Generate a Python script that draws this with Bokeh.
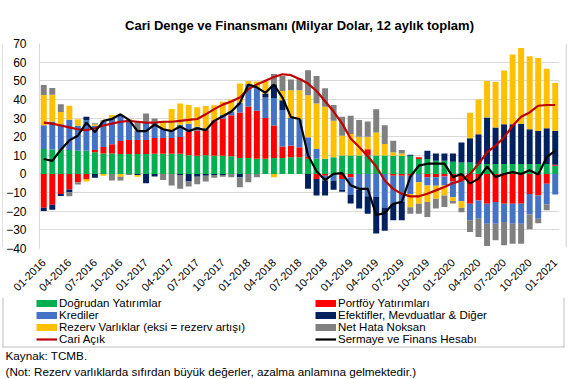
import math
from bokeh.plotting import figure
from bokeh.layouts import column, row
from bokeh.models import (ColumnDataSource, Range1d, FixedTicker, Label, Legend, LegendItem)
from bokeh.embed import file_html
from bokeh.resources import INLINE

# ---------------- data (billion USD, 12-month sums), 01-2016 .. 01-2021 ----------------
tick_labels = ["01-2016", "04-2016", "07-2016", "10-2016", "01-2017", "04-2017", "07-2017",
               "10-2017", "01-2018", "04-2018", "07-2018", "10-2018", "01-2019", "04-2019",
               "07-2019", "10-2019", "01-2020", "04-2020", "07-2020", "10-2020", "01-2021"]

dogrudan = [13.4, 13.1, 13.0, 12.9, 12.5, 12.5, 11.6, 11.0, 11.0, 10.7,
            10.7, 10.7, 10.7, 10.8, 10.8, 10.8, 10.8, 10.0, 9.8, 10.0,
            9.8, 9.8, 9.5, 8.6, 8.6, 8.1, 8.1, 8.5, 8.5, 9.0,
            9.0, 8.1, 8.1, 8.1, 9.0, 9.9, 9.9, 9.9, 10.0, 9.9,
            9.9, 9.8, 9.8, 9.8, 8.0, 8.0, 7.1, 7.1, 6.5, 6.2,
            6.2, 5.3, 5.3, 5.3, 5.3, 5.3, 5.3, 5.3, 5.3, 5.3,
            4.4]
portfoy = [-18.1, -16.5, -10.7, -8.4, -4.4, -2.7, 1.2, 3.5, 5.0, 7.0,
           7.5, 7.5, 7.5, 8.5, 8.5, 8.5, 9.0, 12.5, 13.5, 14.0,
           19.0, 20.0, 22.0, 24.4, 27.6, 25.8, 21.9, 17.5, 6.2, 6.2,
           5.3, 1.2, -2.7, -0.9, 0.0, -2.7, -1.8, 0.0, 3.2, 0.0,
           0.0, -1.0, -1.0, -0.9, 0.9, -1.8, -1.8, -1.4, -4.0, -3.6,
           -16.0, -14.2, -16.0, -15.1, -16.0, -16.0, -16.0, -10.7, -11.6, -5.3,
           0.5]
krediler = [12.8, 15.0, 13.7, 16.2, 13.3, 16.4, 13.0, 13.5, 13.9, 14.0,
            10.8, 5.0, 10.0, 8.9, 4.8, 3.9, 6.6, 4.5, 2.0, 0.5,
            0.0, 2.0, 2.0, 5.4, 11.9, 12.5, 11.0, 14.8, 19.6, 14.8,
            15.1, 10.4, 5.3, -2.7, -3.5, -5.9, -9.2, -8.5, -12.0, -12.4,
            -18.0, -14.9, -14.0, -9.8, -4.4, -4.4, -4.5, -4.8, -8.5, -11.0,
            -8.9, -9.8, -10.7, -11.6, -9.8, -10.7, -10.7, -11.0, -12.5, -11.0,
            -11.0]
efektif = [-1.8, -2.7, -1.1, -1.4, 0.0, 1.8, -2.1, 0.0, 0.0, 0.0,
           0.0, -0.5, -5.0, -1.4, 0.0, 0.0, -0.5, -4.0, -1.5, -1.0,
           -0.5, -0.5, -0.3, -1.8, 0.0, 0.0, 2.2, 7.4, 5.2, 0.0,
           0.0, -7.9, -8.9, -8.0, -5.0, -1.0, -4.9, -10.1, -9.3, -19.6,
           -12.5, -8.9, -9.8, 0.5, 0.0, 4.4, 3.9, 3.9, 4.5, 10.7,
           13.0, 16.0, 25.0, 19.6, 21.4, 21.4, 21.7, 18.7, 17.8, 19.2,
           18.3]
rezerv = [16.2, 14.4, 6.6, 7.5, 3.6, -1.4, 0.7, -1.0, 1.8, -1.5,
          0.5, -1.0, 0.0, 0.0, 4.0, 11.6, 11.4, 10.0, 10.5, 12.0,
          8.0, 7.0, 6.5, 10.1, 1.8, 3.2, 6.7, -1.8, 5.0, 14.9,
          15.5, 22.5, 24.4, 27.9, 19.5, 10.6, 11.5, 10.1, 6.8, 12.4,
          6.2, 1.8, 1.2, -7.1, -11.6, -8.9, -7.0, -5.3, -2.0, -3.5,
          13.7, 18.7, 19.6, 24.6, 28.8, 37.4, 40.6, 39.1, 39.1, 32.0,
          25.6]
net_hata = [5.3, 3.6, 4.1, -2.1, -1.2, 0.0, 0.7, 0.8, -3.5, -2.0,
            -0.5, 5.0, 4.3, 1.5, -3.2, -6.2, -7.5, -2.7, -4.0, -3.0,
            -1.5, -1.0, -1.5, -5.3, -4.4, -1.8, 0.0, 5.4, 8.0, 5.8,
            6.4, 13.4, 14.8, 10.0, 8.5, 10.2, 9.8, 8.9, 8.2, 12.4,
            10.1, 6.2, 1.8, -3.6, -5.3, -8.0, -5.3, -6.2, -1.3, -2.5,
            -6.2, -9.8, -12.0, -8.9, -12.5, -10.7, -10.7, -8.0, -2.3, -3.2,
            0.0]
cari_acik = [27.5, 27.0, 26.0, 25.0, 24.0, 23.5, 24.5, 26.0, 27.0, 28.0,
             28.5, 28.0, 27.5, 27.5, 28.0, 28.0, 28.5, 29.0, 29.5, 32.0,
             34.8, 37.2, 38.9, 41.0, 45.5, 48.0, 50.0, 52.0, 53.5, 53.0,
             51.0, 48.5, 44.5, 39.0, 33.5, 27.0, 19.0, 14.5, 9.5, 4.0,
             -3.5, -8.0, -10.7, -12.0, -12.0, -10.6, -8.8, -7.0, -4.9, -3.5,
             0.0, 5.4, 11.6, 15.2, 19.6, 25.9, 30.7, 33.0, 36.6, 37.0,
             37.0]
sermaye_finans = [8.0, 7.0, 13.0, 18.0, 20.5, 27.5, 22.5, 28.5, 29.5, 32.0,
                  29.0, 23.0, 23.0, 26.5, 24.0, 23.0, 25.5, 23.0, 24.5, 23.5,
                  28.5, 31.0, 33.5, 38.0, 48.0, 46.5, 43.5, 48.0, 41.0, 30.5,
                  29.5, 10.0, 1.5, -3.3, 0.0, 0.4, -6.0, -8.0, -8.0, -22.0,
                  -21.0, -16.0, -15.0, -1.5, 4.5, 5.5, 5.5, 5.5, -1.7, 0.0,
                  -5.2, -2.5, 4.0, -1.7, 0.0, 1.0, 0.0, 2.0, -0.3, 9.0,
                  12.5]

n = len(dogrudan)
for arr in (portfoy, krediler, efektif, rezerv, net_hata, cari_acik, sermaye_finans):
    assert len(arr) == n

FONT = "Liberation Sans"
BORDER = "#BFBFBF"

series = [
    ("Doğrudan Yatırımlar", dogrudan, "#00B050"),
    ("Portföy Yatırımları", portfoy, "#FF0000"),
    ("Krediler", krediler, "#4472C4"),
    ("Efektifler, Mevduatlar & Diğer", efektif, "#002060"),
    ("Rezerv Varlıklar (eksi = rezerv artışı)", rezerv, "#FFC000"),
    ("Net Hata Noksan", net_hata, "#808080"),
]

TOTAL_W = 566
TOP_H = 4
SIDE_W = 3
P_TOP, P_BOTTOM = 39, 48
FRAME_W, FRAME_H = 520, 205
P_H = P_TOP + FRAME_H + P_BOTTOM


def strip(w, h):
    """A plain drawing strip whose data units are pixels (used for the chart's outer frame)."""
    f = figure(width=w, height=h, output_backend="svg", toolbar_location=None,
               title_location=None,
               x_range=Range1d(0, w), y_range=Range1d(0, h),
               x_axis_location=None, y_axis_location=None, min_border=0)
    f.outline_line_color = None
    f.grid.visible = False
    return f


def edge(f, x0, x1, y0, y1):
    """One 1px piece of the outer frame, drawn as a thin filled box."""
    f.quad(left=[x0], right=[x1], bottom=[y0], top=[y1],
           fill_color=BORDER, line_color=None)


# ---------------- main chart ----------------
p = figure(frame_width=FRAME_W, frame_height=FRAME_H, output_backend="svg", toolbar_location=None,
           x_range=Range1d(-0.5, n - 0.5), y_range=Range1d(-40, 70),
           min_border_left=37 - SIDE_W, min_border_right=9 - SIDE_W,
           min_border_top=P_TOP, min_border_bottom=P_BOTTOM)
p.outline_line_color = None

p.title.text = "Cari Denge ve Finansmanı (Milyar Dolar, 12 aylık toplam)"
p.title.align = "center"
p.title.offset = -20
p.title.standoff = 22
p.title.text_font = FONT
p.title.text_font_style = "bold"
p.title.text_font_size = "13px"
p.title.text_color = "#000000"

pos = [0.0] * n
neg = [0.0] * n
xs = list(range(n))
for name, vals, color in series:
    bottoms, tops = [], []
    for i, v in enumerate(vals):
        if v >= 0:
            bottoms.append(pos[i]); tops.append(pos[i] + v); pos[i] += v
        else:
            bottoms.append(neg[i]); tops.append(neg[i] + v); neg[i] += v
    src = ColumnDataSource(dict(x=xs, bottom=bottoms, top=tops))
    p.vbar(x="x", width=0.7, bottom="bottom", top="top", source=src,
           fill_color=color, line_color=None)

p.line(xs, cari_acik, line_color="#C00000", line_width=2.2)
p.line(xs, sermaye_finans, line_color="#000000", line_width=2.2)

yt = FixedTicker(ticks=list(range(-40, 80, 10)))
p.yaxis.ticker = yt
p.ygrid.ticker = yt
p.ygrid.grid_line_color = "#D9D9D9"
p.xgrid.visible = False
p.yaxis.axis_line_color = "#D9D9D9"
p.yaxis.major_tick_line_color = None
p.yaxis.minor_tick_line_color = None
p.yaxis.major_label_standoff = 7
p.yaxis.major_label_text_font = FONT
p.yaxis.major_label_text_font_size = "12px"
p.yaxis.major_label_text_color = "#000000"

xt_pos = [3 * k for k in range(len(tick_labels))]
p.xaxis.ticker = FixedTicker(ticks=xt_pos)
p.xaxis.major_label_overrides = {t: lab for t, lab in zip(xt_pos, tick_labels)}
p.xaxis.major_label_orientation = math.pi / 4
p.xaxis.axis_line_color = None
p.xaxis.major_tick_line_color = None
p.xaxis.minor_tick_line_color = None
p.xaxis.major_label_standoff = 6
p.xaxis.major_label_text_font = FONT
p.xaxis.major_label_text_font_size = "11px"
p.xaxis.major_label_text_color = "#000000"

# ---------------- outer frame pieces ----------------
top = strip(TOTAL_W, TOP_H)
edge(top, 2, 564, 0, 1)

left = strip(SIDE_W, P_H)
edge(left, 2, 3, 0, P_H)
right = strip(SIDE_W, P_H)
edge(right, 0, 1, 0, P_H)

# ---------------- legend strip ----------------
H2 = 52
lg = strip(TOTAL_W, H2)
edge(lg, 2, 3, 2, H2)
edge(lg, 563, 564, 2, H2)
edge(lg, 2, 564, 2, 3)


def swatch(color, width):
    # a renderer kept outside the visible range: only its legend glyph is shown
    return lg.line([-50, -40], [-50, -50], line_color=color, line_width=width, line_cap="butt")


items_left = [
    LegendItem(label=series[0][0], renderers=[swatch(series[0][2], 7)]),
    LegendItem(label=series[2][0], renderers=[swatch(series[2][2], 7)]),
    LegendItem(label=series[4][0], renderers=[swatch(series[4][2], 7)]),
    LegendItem(label="Cari Açık", renderers=[swatch("#C00000", 2.2)]),
]
items_right = [
    LegendItem(label=series[1][0], renderers=[swatch(series[1][2], 7)]),
    LegendItem(label=series[3][0], renderers=[swatch(series[3][2], 7)]),
    LegendItem(label=series[5][0], renderers=[swatch(series[5][2], 7)]),
    LegendItem(label="Sermaye ve Finans Hesabı", renderers=[swatch("#000000", 2.2)]),
]
for items, x0 in ((items_left, 36), (items_right, 315)):
    leg = Legend(items=items, location=(x0, 4), orientation="vertical",
                 padding=0, margin=0, spacing=0, label_height=12, glyph_height=12,
                 glyph_width=21, label_standoff=2, border_line_color=None,
                 background_fill_alpha=0, label_text_font=FONT,
                 label_text_font_size="11.5px", label_text_color="#000000")
    lg.add_layout(leg)

# ---------------- notes ----------------
H3 = 30
nt = strip(TOTAL_W, H3)
nt.add_layout(Label(x=5, y=24, x_units="screen", y_units="screen",
                    text="Kaynak: TCMB.", text_font=FONT, text_font_size="11.7px",
                    text_baseline="middle", text_color="#000000"))
nt.add_layout(Label(x=5, y=8, x_units="screen", y_units="screen",
                    text="(Not: Rezerv varlıklarda sıfırdan büyük değerler, azalma anlamına gelmektedir.)",
                    text_font=FONT, text_font_size="11.7px",
                    text_baseline="middle", text_color="#000000"))

page = column(top, row(left, p, right, spacing=0), lg, nt, spacing=0)

open("out.html", "w").write(file_html(page, INLINE))
